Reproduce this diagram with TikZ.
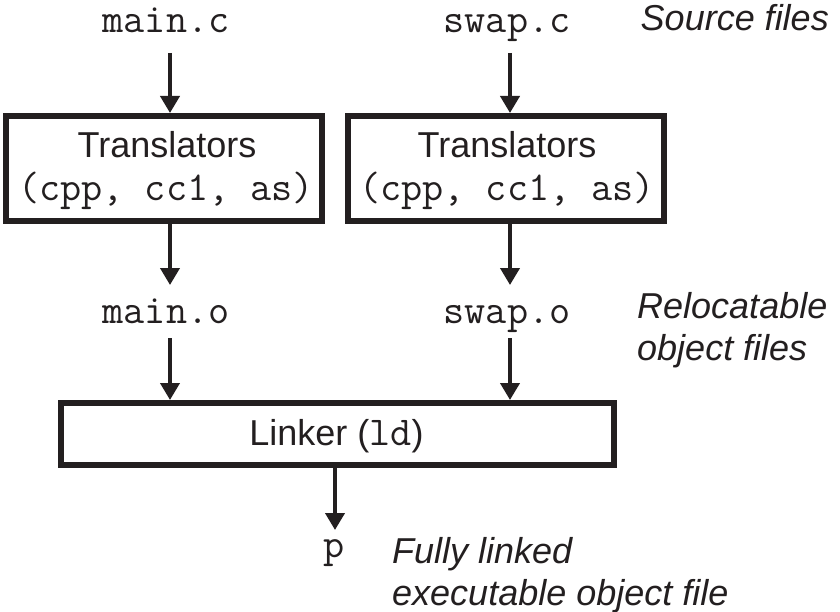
\documentclass[tikz,border=0pt]{standalone}
\usepackage{fontspec}
\setmainfont{Liberation Sans}
\usetikzlibrary{arrows.meta}
\definecolor{ink}{HTML}{231F20}
\newcommand{\codefont}{\fontsize{41}{42}\selectfont\ttfamily}
\begin{document}
\begin{tikzpicture}[x=1pt,y=-1pt,
  every node/.style={text=ink, font=\fontsize{36}{42}\selectfont},
  txt/.style={anchor=base, inner sep=0pt},
  code/.style={anchor=base, inner sep=0pt, font=\codefont},
  note/.style={inner sep=0pt, align=left,
    font=\fontsize{36}{42}\selectfont\itshape},
  stage/.style={draw=ink, line width=6pt, inner sep=0pt},
  arr/.style={draw=ink, line width=4pt,
    -{Triangle[length=17pt,width=19pt]}}]
\useasboundingbox (0,0) rectangle (840,612);

% translator stages and the linker
\node[stage, minimum width=316pt, minimum height=105pt] (lbox) at (164,168.5) {};
\node[stage, minimum width=316pt, minimum height=105pt] (rbox) at (506,168.5) {};
\node[stage, minimum width=553pt, minimum height=62pt] (link) at (337.5,434) {};

\node[txt] (ltitle) at (167,158) {Translators};
\node[code] (ltools) at (166,201) {(cpp, cc1, as)};
\node[txt] (rtitle) at (507,158) {Translators};
\node[code] (rtools) at (507,201) {(cpp, cc1, as)};
\node[txt] (ltext) at (336.5,445) {Linker ({\codefont ld})};

% files
\node[code] (mainc) at (166,33) {main.c};
\node[code] (swapc) at (507,33) {swap.c};
\node[code] (maino) at (166,323) {main.o};
\node[code] (swapo) at (507,323) {swap.o};
\node[code] (prog) at (334,557) {p};

% arrow columns
\coordinate (lc) at (170,0);
\coordinate (rc) at (510,0);
\coordinate (pc) at (335,0);

\draw[arr] ([yshift=-20pt]mainc.base -| lc) -- (lbox.north -| lc);
\draw[arr] ([yshift=-20pt]swapc.base -| rc) -- (rbox.north -| rc);
\draw[arr] (lbox.south -| lc) -- ([yshift=38pt]maino.base -| lc);
\draw[arr] (rbox.south -| rc) -- ([yshift=38pt]swapo.base -| rc);
\draw[arr] ([yshift=-15pt]maino.base -| lc) -- (link.north -| lc);
\draw[arr] ([yshift=-15pt]swapo.base -| rc) -- (link.north -| rc);
\draw[arr] (link.south -| pc) -- ([yshift=27pt]prog.base -| pc);

% captions (base anchor sits on the last line)
\node[note, anchor=base east] (src) at (829,31) {Source files};
\node[note, anchor=base west] (rel) at (637,360) {Relocatable\\object files};
\node[note, anchor=base west] (exe) at (392,605) {Fully linked\\executable object file};
\end{tikzpicture}
\end{document}
